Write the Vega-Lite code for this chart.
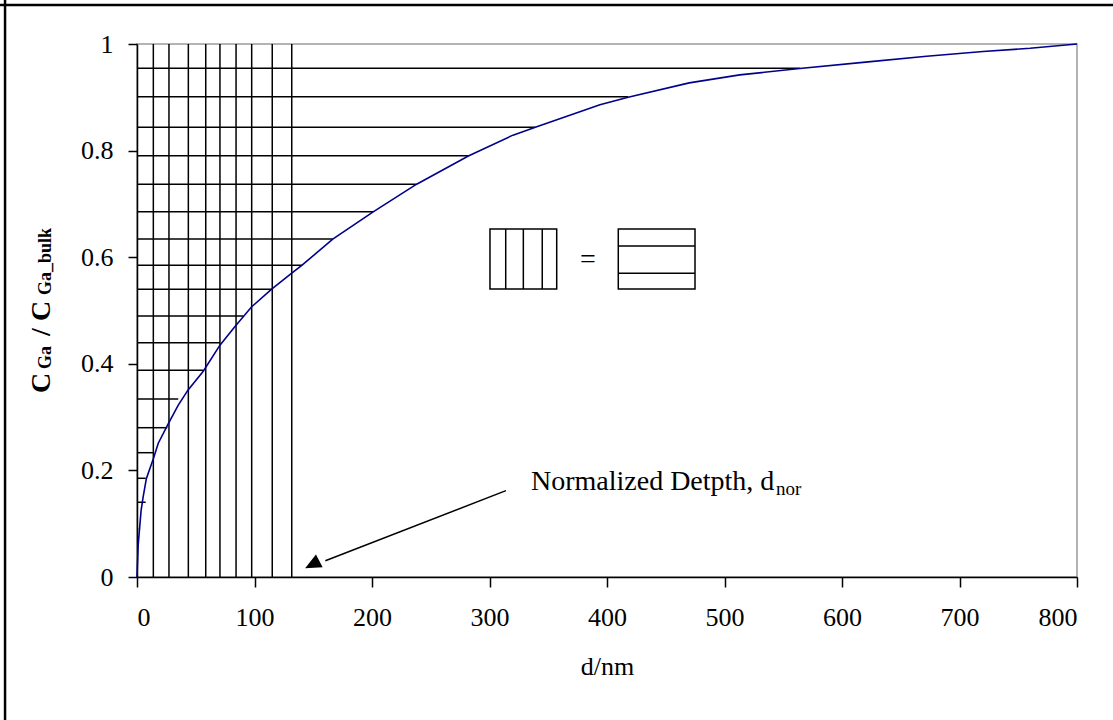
{
  "$schema": "https://vega.github.io/schema/vega-lite/v6.json",
  "width": 940,
  "height": 533,
  "autosize": {"type": "none"},
  "padding": {"left": 137, "top": 44, "right": 36, "bottom": 143},
  "background": "white",
  "config": {
    "view": {"stroke": "#9a9a9a", "strokeWidth": 1.5},
    "font": "Liberation Serif",
    "axis": {
      "grid": false,
      "domainColor": "black",
      "domainWidth": 1.5,
      "tickColor": "black",
      "tickWidth": 1.5,
      "labelColor": "black",
      "titleColor": "black",
      "labelFont": "Liberation Serif",
      "titleFont": "Liberation Serif",
      "labelFontSize": 26,
      "titleFontSize": 26,
      "titleFontWeight": "normal"
    }
  },
  "datasets": {
    "curve": [
      {"d": 0, "c": 0}, {"d": 1, "c": 0.06}, {"d": 2.3, "c": 0.094}, {"d": 3.5, "c": 0.125},
      {"d": 5.2, "c": 0.15}, {"d": 8, "c": 0.185}, {"d": 13.9, "c": 0.222}, {"d": 18.1, "c": 0.251},
      {"d": 26, "c": 0.285}, {"d": 35, "c": 0.322}, {"d": 43.5, "c": 0.351}, {"d": 56.4, "c": 0.386},
      {"d": 70.6, "c": 0.435}, {"d": 83.4, "c": 0.47}, {"d": 97.6, "c": 0.507}, {"d": 114.6, "c": 0.54},
      {"d": 131.7, "c": 0.57}, {"d": 140.5, "c": 0.585}, {"d": 166.6, "c": 0.634}, {"d": 201, "c": 0.685},
      {"d": 238, "c": 0.737}, {"d": 282, "c": 0.79}, {"d": 320, "c": 0.829}, {"d": 339, "c": 0.844},
      {"d": 394, "c": 0.886}, {"d": 418, "c": 0.9}, {"d": 470, "c": 0.927}, {"d": 513, "c": 0.942},
      {"d": 564, "c": 0.954}, {"d": 620, "c": 0.966}, {"d": 672, "c": 0.977}, {"d": 720, "c": 0.986},
      {"d": 760, "c": 0.992}, {"d": 800, "c": 1.0}
    ],
    "vlines": [
      {"d": 13.9}, {"d": 27.2}, {"d": 43.7}, {"d": 58.5}, {"d": 70.6},
      {"d": 84.3}, {"d": 97.6}, {"d": 115.1}, {"d": 131.7}
    ],
    "hlines": [
      {"c": 0.9544, "dEnd": 564}, {"c": 0.9011, "dEnd": 418}, {"c": 0.8437, "dEnd": 339},
      {"c": 0.7904, "dEnd": 282}, {"c": 0.7368, "dEnd": 238}, {"c": 0.6854, "dEnd": 201},
      {"c": 0.6341, "dEnd": 166.6}, {"c": 0.5848, "dEnd": 140.5}, {"c": 0.5398, "dEnd": 114.6},
      {"c": 0.4897, "dEnd": 90.5}, {"c": 0.4396, "dEnd": 70.6}, {"c": 0.3878, "dEnd": 56.4},
      {"c": 0.334, "dEnd": 35.1}, {"c": 0.2801, "dEnd": 25.8}, {"c": 0.2332, "dEnd": 13.9},
      {"c": 0.1852, "dEnd": 7.4}, {"c": 0.1402, "dEnd": 7.4}, {"c": 0.0901, "dEnd": 1.1}
    ],
    "boxes": [
      {"x": 300.4, "x2": 357.2, "y": 0.6529, "y2": 0.5403},
      {"x": 409.6, "x2": 474.9, "y": 0.6529, "y2": 0.5403}
    ],
    "segments": [
      {"x": 313.8, "x2": 313.8, "y": 0.5403, "y2": 0.6529},
      {"x": 328.8, "x2": 328.8, "y": 0.5403, "y2": 0.6529},
      {"x": 344.9, "x2": 344.9, "y": 0.5403, "y2": 0.6529},
      {"x": 409.6, "x2": 474.9, "y": 0.621, "y2": 0.621},
      {"x": 409.6, "x2": 474.9, "y": 0.5698, "y2": 0.5698},
      {"x": 314.0, "x2": 160.3, "y": 0.162, "y2": 0.0304}
    ],
    "frame": [
      {"x": -112.3, "x2": -112.3, "y": 1.09, "y2": -0.27},
      {"x": -117, "x2": 831, "y": 1.0732, "y2": 1.0732}
    ],
    "arrowhead": [{"x": 149.1, "y": 0.0235}],
    "labels": [
      {"t": "Normalized Detpth, d", "x": 335.3, "y": 0.1632},
      {"t": "=", "x": 377.0, "y": 0.5788}
    ],
    "sublabels": [{"t": "nor", "x": 543.8, "y": 0.1538}],
    "ytitle": [
      {"t": "C", "x": -74.0, "y": 0.3452},
      {"t": "/", "x": -74.0, "y": 0.4522},
      {"t": "C", "x": -74.0, "y": 0.4803}
    ],
    "ytitlesub": [
      {"t": "Ga", "x": -73.2, "y": 0.3902},
      {"t": "Ga_bulk", "x": -73.2, "y": 0.5291}
    ]
  },
  "layer": [
    {
      "data": {"name": "vlines"},
      "mark": {"type": "rule", "color": "black", "strokeWidth": 1.5},
      "encoding": {
        "x": {
          "field": "d", "type": "quantitative", "title": "d/nm",
          "scale": {"domain": [0, 800], "nice": false, "zero": false},
          "axis": {"values": [0, 100, 200, 300, 400, 500, 600, 700, 800], "tickSize": 10, "labelPadding": 17, "titleY": 97, "titleBaseline": "alphabetic"}
        }
      }
    },
    {
      "data": {"name": "hlines"},
      "mark": {"type": "rule", "color": "black", "strokeWidth": 1.5},
      "encoding": {
        "y": {
          "field": "c", "type": "quantitative", "title": null,
          "scale": {"domain": [0, 1], "nice": false},
          "axis": {"values": [0, 0.2, 0.4, 0.6, 0.8, 1], "format": "~g", "tickSize": 9, "labelPadding": 15}
        },
        "x": {"field": "dEnd", "type": "quantitative", "title": "d/nm"},
        "x2": {"datum": 0}
      }
    },
    {
      "data": {"name": "curve"},
      "mark": {"type": "line", "color": "#00008b", "strokeWidth": 1.6},
      "encoding": {
        "x": {"field": "d", "type": "quantitative", "title": "d/nm"},
        "y": {"field": "c", "type": "quantitative", "title": null}
      }
    },
    {
      "data": {"name": "boxes"},
      "mark": {"type": "rect", "fill": "white", "fillOpacity": 0, "stroke": "black", "strokeWidth": 1.5},
      "encoding": {
        "x": {"field": "x", "type": "quantitative", "title": "d/nm"},
        "x2": {"field": "x2"},
        "y": {"field": "y", "type": "quantitative", "title": null},
        "y2": {"field": "y2"}
      }
    },
    {
      "data": {"name": "segments"},
      "mark": {"type": "rule", "color": "black", "strokeWidth": 1.5},
      "encoding": {
        "x": {"field": "x", "type": "quantitative", "title": "d/nm"},
        "x2": {"field": "x2"},
        "y": {"field": "y", "type": "quantitative", "title": null},
        "y2": {"field": "y2"}
      }
    },
    {
      "data": {"name": "frame"},
      "mark": {"type": "rule", "color": "black", "strokeWidth": 2.5},
      "encoding": {
        "x": {"field": "x", "type": "quantitative", "title": "d/nm"},
        "x2": {"field": "x2"},
        "y": {"field": "y", "type": "quantitative", "title": null},
        "y2": {"field": "y2"}
      }
    },
    {
      "data": {"name": "arrowhead"},
      "mark": {"type": "point", "shape": "M 1 0 L -1 -0.9 L -1 0.9 Z", "size": 256, "angle": 152.5, "filled": true, "color": "black", "opacity": 1},
      "encoding": {
        "x": {"field": "x", "type": "quantitative", "title": "d/nm"},
        "y": {"field": "y", "type": "quantitative", "title": null}
      }
    },
    {
      "data": {"name": "labels"},
      "mark": {"type": "text", "font": "Liberation Serif", "fontSize": 28, "align": "left", "baseline": "alphabetic", "color": "black"},
      "encoding": {
        "x": {"field": "x", "type": "quantitative", "title": "d/nm"},
        "y": {"field": "y", "type": "quantitative", "title": null},
        "text": {"field": "t"}
      }
    },
    {
      "data": {"name": "sublabels"},
      "mark": {"type": "text", "font": "Liberation Serif", "fontSize": 19, "align": "left", "baseline": "alphabetic", "color": "black"},
      "encoding": {
        "x": {"field": "x", "type": "quantitative", "title": "d/nm"},
        "y": {"field": "y", "type": "quantitative", "title": null},
        "text": {"field": "t"}
      }
    },
    {
      "data": {"name": "ytitle"},
      "mark": {"type": "text", "font": "Liberation Serif", "fontSize": 28, "fontWeight": "bold", "angle": 270, "align": "left", "baseline": "alphabetic", "color": "black"},
      "encoding": {
        "x": {"field": "x", "type": "quantitative", "title": "d/nm"},
        "y": {"field": "y", "type": "quantitative", "title": null},
        "text": {"field": "t"}
      }
    },
    {
      "data": {"name": "ytitlesub"},
      "mark": {"type": "text", "font": "Liberation Serif", "fontSize": 18, "fontWeight": "bold", "angle": 270, "align": "left", "baseline": "alphabetic", "color": "black"},
      "encoding": {
        "x": {"field": "x", "type": "quantitative", "title": "d/nm"},
        "y": {"field": "y", "type": "quantitative", "title": null},
        "text": {"field": "t"}
      }
    }
  ]
}
